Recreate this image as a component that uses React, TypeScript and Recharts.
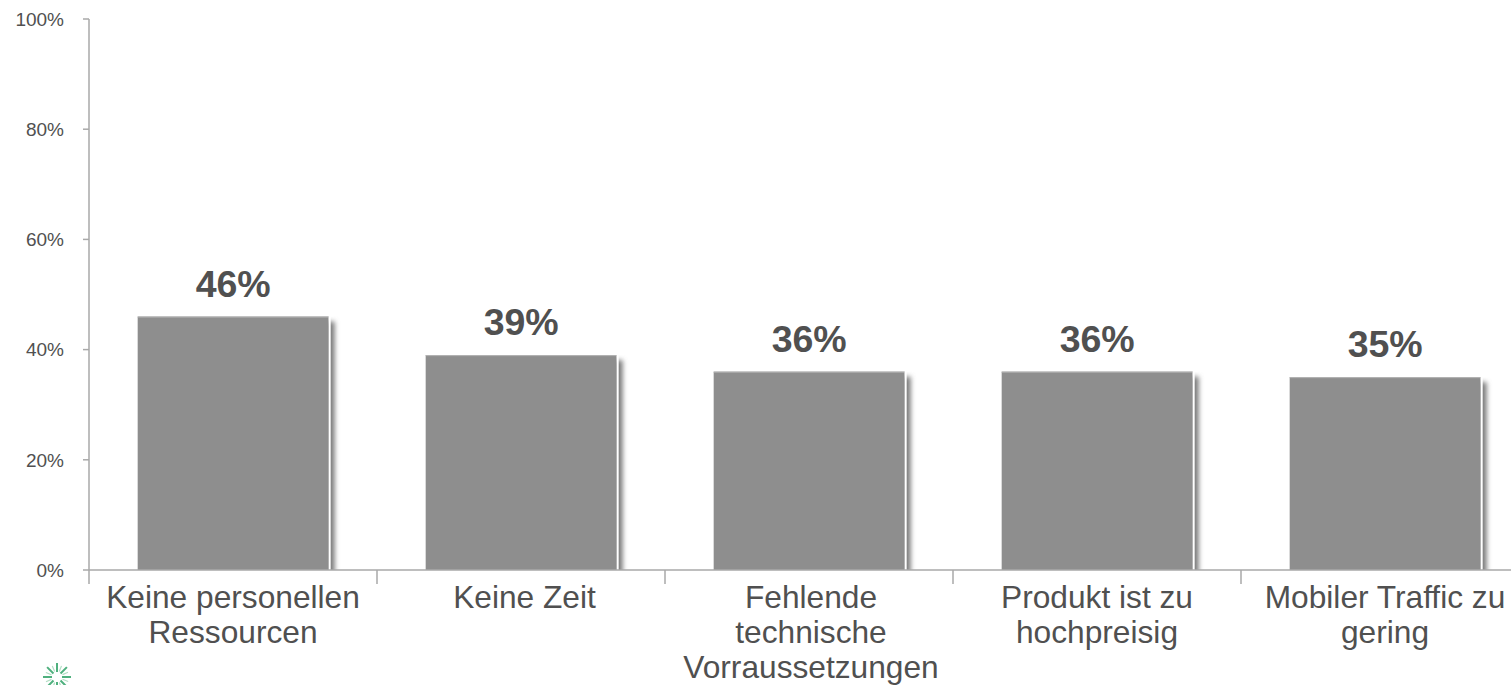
import React from "react";
import { BarChart, Bar, XAxis, YAxis, LabelList } from "recharts";

const categories = [
  "Keine personellen\nRessourcen",
  "Keine Zeit",
  "Fehlende\ntechnische\nVorraussetzungen",
  "Produkt ist zu\nhochpreisig",
  "Mobiler Traffic zu\ngering",
];
const shares = [46, 39, 36, 36, 35];
const yTicks = [0, 20, 40, 60, 80, 100];

const rows = categories.map((name, i) => ({ name, share: shares[i] }));

const FONT = '"Liberation Sans", Arial, sans-serif';
const AXIS = "#a9a9a9";
const TEXT = "#505050";
const BAR = "#8e8e8e";
const BAND = 288;

// Category label split over centred lines, plus the tick marking the band's left edge.
function CategoryTick({ x, y, payload, index }: any) {
  const lines = String(payload.value).split("\n");
  const edge = x - BAND / 2;
  const textX = x + (index === 1 ? 3.5 : index === 2 ? 2 : 0);
  return (
    <g>
      <line x1={edge} x2={edge} y1={y - 8} y2={y + 6} stroke={AXIS} strokeWidth={1.5} />
      <text x={textX} textAnchor="middle" fontFamily={FONT} fontSize={31.7} fill={TEXT}>
        {lines.map((line, i) => (
          <tspan key={i} x={textX} y={y + 30 + i * 35}>
            {line}
          </tspan>
        ))}
      </text>
    </g>
  );
}

// Bar with a thin white right edge and a soft shadow falling to the right.
function ShadowedBar({ x, y, width, height, index }: any) {
  const clip = `barClip${index}`;
  return (
    <g>
      <clipPath id={clip}>
        <rect x={x} y={y} width={width + 20} height={height} />
      </clipPath>
      <g clipPath={`url(#${clip})`}>
        <rect
          x={x + width - 3}
          y={y + 5}
          width={9}
          height={height + 10}
          fill="#7a7a7a"
          filter="url(#barBlur)"
        />
      </g>
      <rect x={x} y={y} width={width} height={height} fill={BAR} />
      <rect x={x} y={y} width={width} height={1} fill="#b5b5b5" />
      <rect x={x + width} y={y} width={2} height={height} fill="#ffffff" />
    </g>
  );
}

// Small green starburst in the lower-left corner.
function Emblem() {
  const spokes = [0, 45, 90, 135, 180, 225, 270, 315];
  return (
    <svg width={40} height={32} style={{ position: "absolute", left: 37, top: 657 }}>
      <defs>
        <filter id="emblemSoft">
          <feGaussianBlur stdDeviation="0.5" />
        </filter>
      </defs>
      <g filter="url(#emblemSoft)">
        {spokes.map((a) => (
          <line
            key={a}
            x1={25}
            y1={20}
            x2={34}
            y2={20}
            stroke="#4fb07e"
            strokeWidth={2}
            transform={`rotate(${a} 20 20)`}
          />
        ))}
        {spokes.map((a) => (
          <line
            key={`s${a}`}
            x1={26}
            y1={20}
            x2={32}
            y2={20}
            stroke="#b2dec4"
            strokeWidth={1.2}
            transform={`rotate(${a + 22} 20 20)`}
          />
        ))}
      </g>
    </svg>
  );
}

export default function App() {
  return (
    <div
      style={{
        position: "absolute",
        left: 0,
        top: 0,
        width: 1511,
        height: 685,
        overflow: "hidden",
        background: "#fff",
      }}
    >
      <BarChart
        width={1540}
        height={685}
        data={rows}
        margin={{ top: 19, right: 11, bottom: 0, left: 0 }}
        barCategoryGap="16.9%"
      >
        <defs>
          <filter id="barBlur" x="-150%" y="-5%" width="400%" height="110%">
            <feGaussianBlur stdDeviation="2.5" />
          </filter>
        </defs>
        <XAxis
          dataKey="name"
          interval={0}
          height={115}
          tick={<CategoryTick />}
          tickLine={false}
          axisLine={{ stroke: AXIS, strokeWidth: 1.5 }}
        />
        <YAxis
          type="number"
          domain={[0, 100]}
          ticks={yTicks}
          width={89}
          tickFormatter={(v: number) => `${v}%`}
          tick={{ fontFamily: FONT, fontSize: 19, fill: TEXT }}
          tickSize={6}
          tickMargin={19}
          tickLine={{ stroke: AXIS, strokeWidth: 1.5 }}
          axisLine={{ stroke: AXIS, strokeWidth: 1.5 }}
        />
        <Bar dataKey="share" isAnimationActive={false} shape={<ShadowedBar />}>
          <LabelList
            dataKey="share"
            position="top"
            offset={20}
            formatter={(v: number) => `${v}%`}
            style={{ fontFamily: FONT, fontSize: 37.5, fontWeight: 700, fill: TEXT }}
          />
        </Bar>
      </BarChart>
      <Emblem />
    </div>
  );
}
